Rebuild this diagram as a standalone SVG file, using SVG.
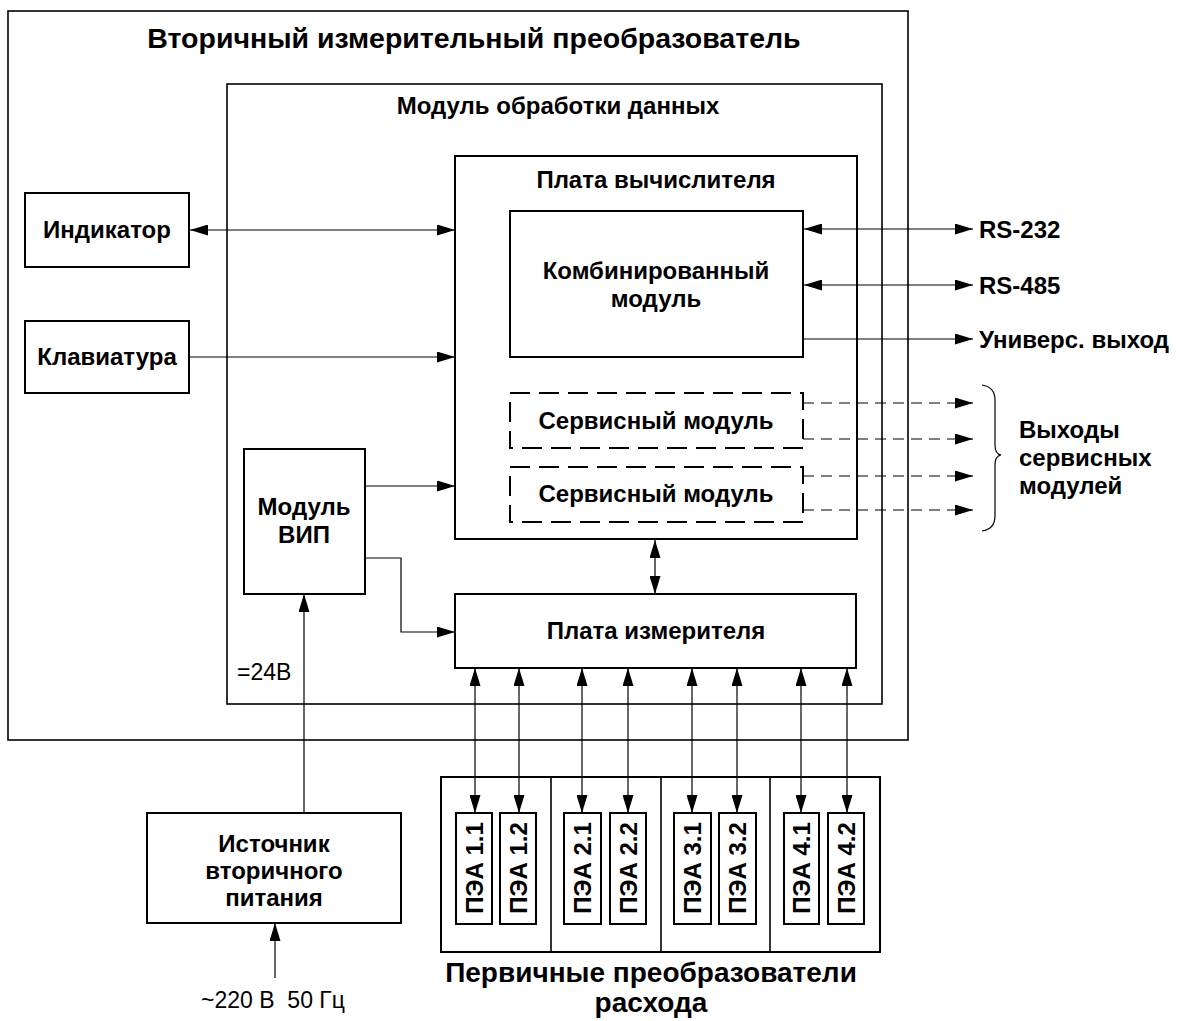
<svg xmlns="http://www.w3.org/2000/svg" width="1182" height="1021" viewBox="0 0 1182 1021">
<defs>
<marker id="ah" markerUnits="userSpaceOnUse" markerWidth="18" markerHeight="11" viewBox="0 0 18 11" refX="18" refY="5.5" orient="auto-start-reverse">
<path d="M0,0 L18,5.5 L0,11 z" fill="#000"/>
</marker>
<style>
.box{fill:#fff;stroke:#000;stroke-width:2}
.frame{fill:none;stroke:#000;stroke-width:1.6}
.dbox{fill:none;stroke:#000;stroke-width:2;stroke-dasharray:20 9}
.ln{fill:none;stroke:#000;stroke-width:1.2}
.dl{fill:none;stroke:#000;stroke-width:1.2;stroke-dasharray:11 7}
text{font-family:"Liberation Sans",Arial,sans-serif;fill:#000}
.b{font-weight:bold;font-size:24px}
.t{font-weight:bold;font-size:28.5px}
.u{font-weight:bold;font-size:28px}
.r{font-size:23px}
.c{text-anchor:middle}
</style>
</defs>
<rect width="1182" height="1021" fill="#fff"/>

<g id="outer">
<rect class="frame" x="8" y="11" width="900" height="729"/>
<text class="t c" x="474" y="48">Вторичный измерительный преобразователь</text>
</g>
<g id="module">
<rect class="frame" x="227" y="84" width="655" height="620"/>
<text class="b c" x="558" y="114">Модуль обработки данных</text>
</g>
<g id="plata-vych">
<rect class="box" x="455" y="156" width="402" height="383"/>
<text class="b c" x="656" y="188">Плата вычислителя</text>
</g>
<g id="komb">
<rect class="box" x="510" y="211" width="293" height="146"/>
<text class="b c" x="656" y="279">Комбинированный</text>
<text class="b c" x="656" y="307">модуль</text>
</g>
<g id="serv1">
<rect class="dbox" x="510" y="393" width="293" height="55"/>
<text class="b c" x="656" y="429">Сервисный модуль</text>
</g>
<g id="serv2">
<rect class="dbox" x="510" y="467" width="293" height="55"/>
<text class="b c" x="656" y="502">Сервисный модуль</text>
</g>
<g id="indicator">
<rect class="box" x="25" y="193" width="164" height="74"/>
<text class="b c" x="107" y="238">Индикатор</text>
</g>
<g id="keyboard">
<rect class="box" x="25" y="321" width="164" height="72"/>
<text class="b c" x="107" y="365">Клавиатура</text>
</g>
<g id="vip">
<rect class="box" x="244" y="449" width="121" height="145"/>
<text class="b c" x="304" y="515">Модуль</text>
<text class="b c" x="304" y="543">ВИП</text>
</g>
<g id="plata-izm">
<rect class="box" x="455" y="594" width="401" height="74"/>
<text class="b c" x="656" y="639">Плата измерителя</text>
</g>
<g id="source">
<rect class="box" x="147" y="813" width="254" height="110"/>
<text class="b c" x="274" y="852">Источник</text>
<text class="b c" x="274" y="879">вторичного</text>
<text class="b c" x="274" y="906">питания</text>
</g>
<g id="pea">
<rect class="box" x="441" y="777" width="439" height="175"/>
<line class="frame" x1="551" y1="777" x2="551" y2="952"/>
<line class="frame" x1="661" y1="777" x2="661" y2="952"/>
<line class="frame" x1="770" y1="777" x2="770" y2="952"/>
<rect class="box" x="456" y="813" width="36" height="111"/>
<rect class="box" x="500" y="813" width="36" height="111"/>
<rect class="box" x="564" y="813" width="37" height="111"/>
<rect class="box" x="610" y="813" width="36" height="111"/>
<rect class="box" x="674" y="813" width="37" height="111"/>
<rect class="box" x="719" y="813" width="37" height="111"/>
<rect class="box" x="784" y="813" width="35" height="111"/>
<rect class="box" x="828" y="813" width="36" height="111"/>
<text class="b c" transform="translate(482.5,868) rotate(-90)">ПЭА 1.1</text>
<text class="b c" transform="translate(526.5,868) rotate(-90)">ПЭА 1.2</text>
<text class="b c" transform="translate(591,868) rotate(-90)">ПЭА 2.1</text>
<text class="b c" transform="translate(636.5,868) rotate(-90)">ПЭА 2.2</text>
<text class="b c" transform="translate(701,868) rotate(-90)">ПЭА 3.1</text>
<text class="b c" transform="translate(746,868) rotate(-90)">ПЭА 3.2</text>
<text class="b c" transform="translate(810,868) rotate(-90)">ПЭА 4.1</text>
<text class="b c" transform="translate(854.5,868) rotate(-90)">ПЭА 4.2</text>
<text class="u c" x="651" y="982">Первичные преобразователи</text>
<text class="u c" x="651" y="1012">расхода</text>
</g>
<g id="labels">
<text class="b" x="979" y="238">RS-232</text>
<text class="b" x="979" y="294">RS-485</text>
<text class="b" x="979" y="348">Универс. выход</text>
<text class="b" x="1019" y="438">Выходы</text>
<text class="b" x="1019" y="466">сервисных</text>
<text class="b" x="1019" y="494">модулей</text>
<text class="r" x="237" y="680">=24В</text>
<text class="r c" x="273" y="1008" xml:space="preserve">~220 В  50 Гц</text>
<path class="ln" d="M982,385 Q995,387 995,400 L995,445 Q995,454 1001,455 Q995,456 995,465 L995,516 Q995,529 982,531"/>
</g>
<g id="connectors">
<line class="ln" x1="190" y1="230" x2="455" y2="230" marker-start="url(#ah)" marker-end="url(#ah)"/>
<line class="ln" x1="190" y1="357" x2="455" y2="357" marker-end="url(#ah)"/>
<line class="ln" x1="365" y1="486" x2="455" y2="486" marker-end="url(#ah)"/>
<polyline class="ln" points="365,558 401,558 401,632 455,632" marker-end="url(#ah)"/>
<line class="ln" x1="655" y1="540" x2="655" y2="594" marker-start="url(#ah)" marker-end="url(#ah)"/>
<line class="ln" x1="804" y1="229" x2="973" y2="229" marker-start="url(#ah)" marker-end="url(#ah)"/>
<line class="ln" x1="804" y1="285" x2="973" y2="285" marker-start="url(#ah)" marker-end="url(#ah)"/>
<line class="ln" x1="803" y1="339" x2="973" y2="339" marker-end="url(#ah)"/>
<line class="dl" x1="803" y1="403" x2="973" y2="403" marker-end="url(#ah)"/>
<line class="dl" x1="803" y1="439" x2="973" y2="439" marker-end="url(#ah)"/>
<line class="dl" x1="803" y1="476" x2="973" y2="476" marker-end="url(#ah)"/>
<line class="dl" x1="803" y1="510" x2="973" y2="510" marker-end="url(#ah)"/>
<line class="ln" x1="304" y1="813" x2="304" y2="594" marker-end="url(#ah)"/>
<line class="ln" x1="275" y1="978" x2="275" y2="923" marker-end="url(#ah)"/>
<line class="ln" x1="475" y1="668" x2="475" y2="813" marker-start="url(#ah)" marker-end="url(#ah)"/>
<line class="ln" x1="519" y1="668" x2="519" y2="813" marker-start="url(#ah)" marker-end="url(#ah)"/>
<line class="ln" x1="582" y1="668" x2="582" y2="813" marker-start="url(#ah)" marker-end="url(#ah)"/>
<line class="ln" x1="628" y1="668" x2="628" y2="813" marker-start="url(#ah)" marker-end="url(#ah)"/>
<line class="ln" x1="692" y1="668" x2="692" y2="813" marker-start="url(#ah)" marker-end="url(#ah)"/>
<line class="ln" x1="737" y1="668" x2="737" y2="813" marker-start="url(#ah)" marker-end="url(#ah)"/>
<line class="ln" x1="801" y1="668" x2="801" y2="813" marker-start="url(#ah)" marker-end="url(#ah)"/>
<line class="ln" x1="847" y1="668" x2="847" y2="813" marker-start="url(#ah)" marker-end="url(#ah)"/>
</g>
</svg>
